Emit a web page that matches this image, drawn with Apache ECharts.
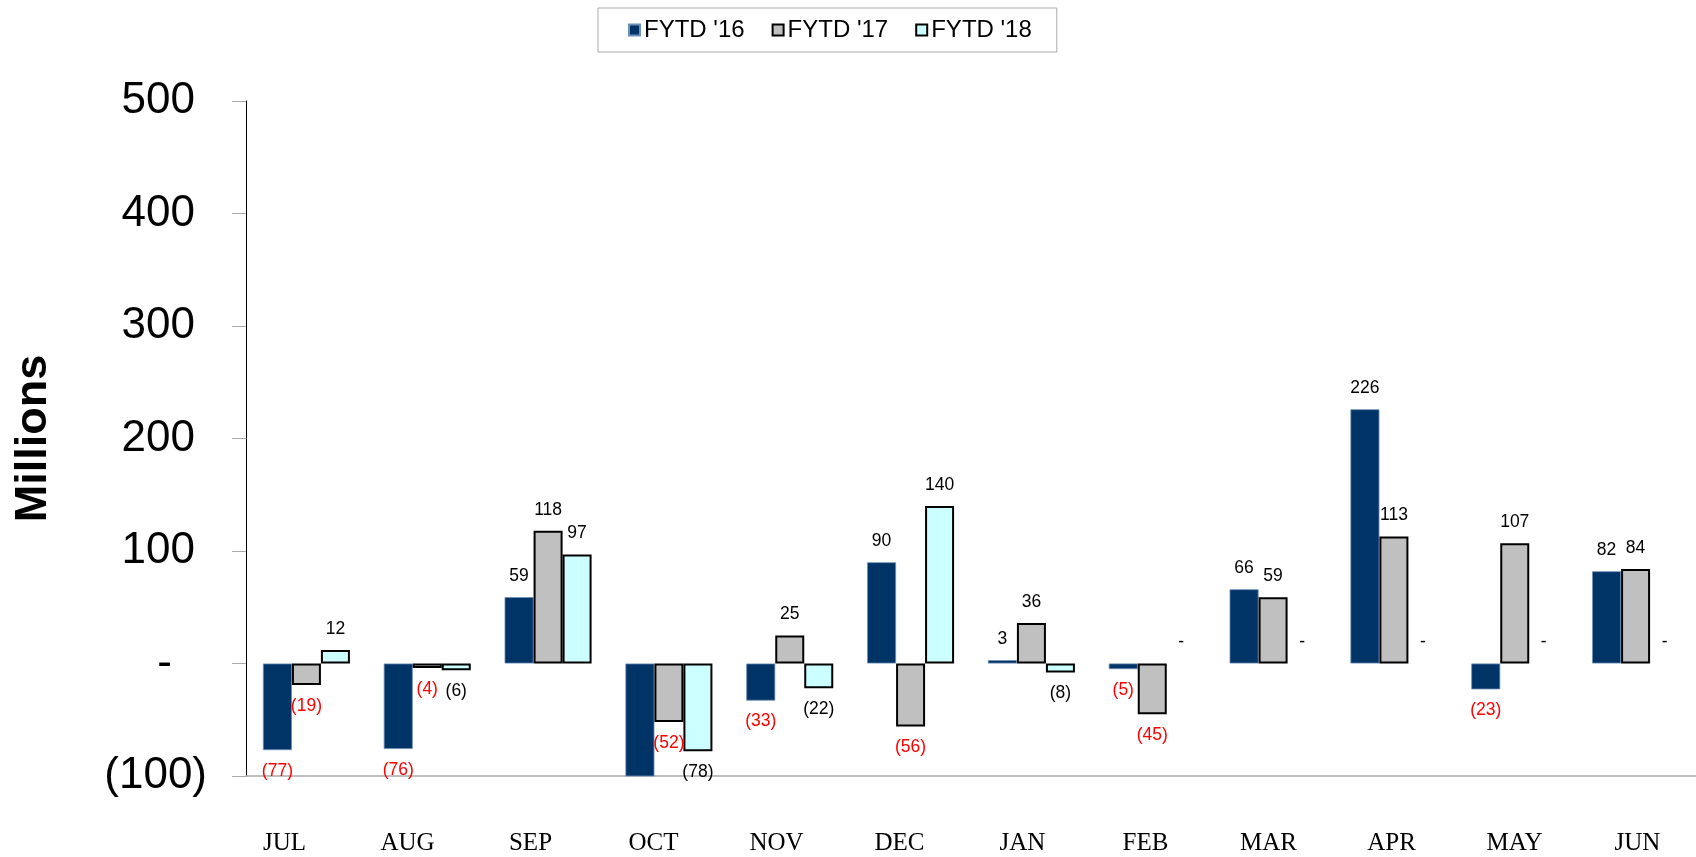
<!DOCTYPE html>
<html>
<head>
<meta charset="utf-8">
<title>FYTD monthly</title>
<script src="https://cdn.jsdelivr.net/npm/echarts@6/dist/echarts.min.js"></script>
<style>
  body, html { margin: 0; padding: 0; background: #fff; }
  #chart { width: 1696px; height: 857px; }
</style>
</head>
<body>
<div id="chart"></div>
<script>
var months = ['JUL', 'AUG', 'SEP', 'OCT', 'NOV', 'DEC', 'JAN', 'FEB', 'MAR', 'APR', 'MAY', 'JUN'];
var seriesNames = ["FYTD '16", "FYTD '17", "FYTD '18"];
// OCT '16 runs off the bottom of the axis, its label is cut off in the original (estimated)
var fy16 = [-77, -76, 59, -105, -33, 90, 3, -5, 66, 226, -23, 82];
var fy17 = [-19, -4, 118, -52, 25, -56, 36, -45, 59, 113, 107, 84];
var fy18 = [12, -6, 97, -78, -22, 140, -8, 0, 0, 0, 0, 0];

var font = 'Liberation Sans, Arial, sans-serif';

function fmt(v) {
    if (v === 0) return '-';
    if (v < 0) return '(' + (-v) + ')';
    return String(v);
}

// accounting style axis labels: positives and the dash are padded off the right edge
function yLabel(v) {
    if (v === 0) return '{z|-}';
    if (v < 0) return '{n|' + fmt(v) + '}';
    return '{p|' + v + '}';
}

function items(vals, negColor) {
    return vals.map(function (v) {
        var d = {
            value: v,
            label: {
                show: v >= -100,
                position: v < 0 ? 'bottom' : 'top',
                color: v < 0 ? negColor : '#000'
            }
        };
        // empty months: no bar outline, only the dash label
        if (v === 0) d.itemStyle = { borderWidth: 0, opacity: 0 };
        return d;
    });
}

var chart = echarts.init(document.getElementById('chart'));

var barLabel = {
    show: true,
    distance: 12,
    fontSize: 17.5,
    fontFamily: font,
    opacity: 1,
    formatter: function (p) { return fmt(p.value); }
};

var tickText = { fontSize: 44, fontFamily: font, color: '#000' };

var option = {
    backgroundColor: '#fff',
    animation: false,
    legend: {
        data: seriesNames,
        left: 598,
        top: 8,
        padding: [10, 25, 10, 30],
        itemGap: 27,
        itemWidth: 11,
        itemHeight: 11,
        icon: 'rect',
        borderColor: '#aaa',
        borderWidth: 1,
        textStyle: { fontSize: 24, fontFamily: font, color: '#000', padding: [0, 0, 0, -1] }
    },
    grid: [
        { left: 246, right: 0, top: 101, bottom: 81, outerBoundsMode: 'none' },
        { left: 223, right: -3, top: 101, bottom: 81, outerBoundsMode: 'none' }
    ],
    xAxis: [{
        type: 'category',
        gridIndex: 0,
        data: months,
        axisLine: { onZero: false, lineStyle: { color: '#aaa', width: 1.5 } },
        axisTick: { show: false },
        axisLabel: { show: false }
    }, {
        type: 'category',
        gridIndex: 1,
        data: months,
        axisLine: { show: false },
        axisTick: { show: false },
        axisLabel: { margin: 55, fontSize: 25, fontFamily: 'Liberation Serif, Times New Roman, serif', color: '#000' }
    }],
    yAxis: [{
        type: 'value',
        gridIndex: 0,
        min: -100,
        max: 500,
        interval: 100,
        name: 'Millions',
        nameLocation: 'middle',
        nameRotate: 90,
        nameGap: 190,
        nameTextStyle: { fontSize: 45, fontWeight: 'bold', fontFamily: font, color: '#000' },
        axisLine: { show: true, lineStyle: { color: '#000', width: 1 } },
        axisTick: { show: true, length: 14, lineStyle: { color: '#aaa' } },
        splitLine: { show: false },
        axisLabel: {
            margin: 39,
            fontSize: 44,
            fontFamily: font,
            color: '#000',
            formatter: yLabel,
            rich: {
                p: Object.assign({ padding: [0, 12, 0, 0] }, tickText),
                n: Object.assign({ padding: [0, 0, 0, 0] }, tickText),
                z: Object.assign({ padding: [0, 35, 0, 0] }, tickText)
            }
        }
    }, {
        type: 'value',
        gridIndex: 1,
        min: -100,
        max: 500,
        show: false
    }],
    series: [{
        name: seriesNames[0],
        type: 'bar',
        barWidth: 29,
        barGap: '0%',
        barCategoryGap: '27%',
        itemStyle: { color: '#003366', borderColor: '#6f8fb8', borderWidth: 0.8 },
        label: barLabel,
        data: items(fy16, '#ff0000')
    }, {
        name: seriesNames[1],
        type: 'bar',
        barWidth: 29,
        barGap: '0%',
        itemStyle: { color: '#c0c0c0', borderColor: '#000', borderWidth: 2 },
        label: barLabel,
        data: items(fy17, '#ff0000')
    }, {
        name: seriesNames[2],
        type: 'bar',
        barWidth: 29,
        barGap: '0%',
        itemStyle: { color: '#ccffff', borderColor: '#000', borderWidth: 2 },
        label: barLabel,
        data: items(fy18, '#000')
    }]
};

chart.setOption(option);
</script>
</body>
</html>
